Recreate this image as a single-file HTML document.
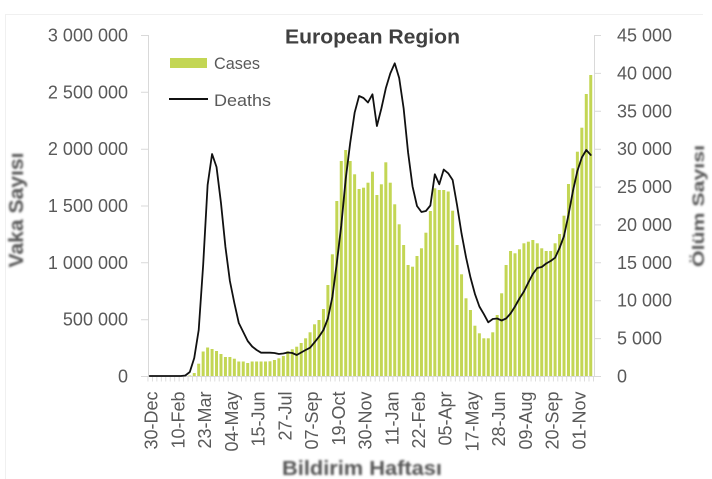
<!DOCTYPE html>
<html>
<head>
<meta charset="utf-8">
<style>
html,body{margin:0;padding:0;background:#fff;width:712px;height:479px;overflow:hidden}
svg{display:block}
text{font-family:"Liberation Sans",Arial,sans-serif}
</style>
</head>
<body>
<svg width="712" height="479" viewBox="0 0 712 479" xmlns="http://www.w3.org/2000/svg">
<defs>
<filter id="bl" x="-20%" y="-50%" width="140%" height="200%"><feGaussianBlur stdDeviation="1.1"/></filter>
</defs>
<rect width="712" height="479" fill="#fff"/>
<path d="M5.5 479V14.5H703" fill="none" stroke="#f0f0f0"/>

<!-- axes -->
<g stroke="#d9d9d9" stroke-width="1" fill="none">
<path d="M148.5 35V376.5"/>
<path d="M141 35.5H148.5M141 92.3H148.5M141 149.2H148.5M141 206H148.5M141 262.8H148.5M141 319.7H148.5M141 376.5H148.5"/>
<path d="M594.5 35V376.5"/>
<path d="M594.5 35.5H601M594.5 73.4H601M594.5 111.3H601M594.5 149.2H601M594.5 187.1H601M594.5 224.9H601M594.5 262.8H601M594.5 300.7H601M594.5 338.6H601M594.5 376.5H601"/>
<path d="M148 376.5H595"/>
<path d="M147.5 379H595" stroke-width="5" stroke-dasharray="0.9 3.555"/>
</g>

<!-- bars -->
<g transform="translate(148.2 376) scale(4.455 -1)" fill="#c3d654">
<rect x="9" y="0" width="0.673" height="0.5"/>
<rect x="10" y="0" width="0.673" height="3"/>
<rect x="11" y="0" width="0.673" height="12.3"/>
<rect x="12" y="0" width="0.673" height="24.5"/>
<rect x="13" y="0" width="0.673" height="28.5"/>
<rect x="14" y="0" width="0.673" height="27"/>
<rect x="15" y="0" width="0.673" height="25"/>
<rect x="16" y="0" width="0.673" height="22"/>
<rect x="17" y="0" width="0.673" height="19"/>
<rect x="18" y="0" width="0.673" height="19"/>
<rect x="19" y="0" width="0.673" height="17.3"/>
<rect x="20" y="0" width="0.673" height="14.5"/>
<rect x="21" y="0" width="0.673" height="14.5"/>
<rect x="22" y="0" width="0.673" height="13"/>
<rect x="23" y="0" width="0.673" height="14.5"/>
<rect x="24" y="0" width="0.673" height="14.5"/>
<rect x="25" y="0" width="0.673" height="14.5"/>
<rect x="26" y="0" width="0.673" height="14.5"/>
<rect x="27" y="0" width="0.673" height="14.7"/>
<rect x="28" y="0" width="0.673" height="16"/>
<rect x="29" y="0" width="0.673" height="17.7"/>
<rect x="30" y="0" width="0.673" height="20"/>
<rect x="31" y="0" width="0.673" height="24.7"/>
<rect x="32" y="0" width="0.673" height="26.7"/>
<rect x="33" y="0" width="0.673" height="29.3"/>
<rect x="34" y="0" width="0.673" height="33"/>
<rect x="35" y="0" width="0.673" height="37.7"/>
<rect x="36" y="0" width="0.673" height="43.7"/>
<rect x="37" y="0" width="0.673" height="51.7"/>
<rect x="38" y="0" width="0.673" height="56"/>
<rect x="39" y="0" width="0.673" height="67"/>
<rect x="40" y="0" width="0.673" height="91"/>
<rect x="41" y="0" width="0.673" height="121.7"/>
<rect x="42" y="0" width="0.673" height="175"/>
<rect x="43" y="0" width="0.673" height="215"/>
<rect x="44" y="0" width="0.673" height="226"/>
<rect x="45" y="0" width="0.673" height="215"/>
<rect x="46" y="0" width="0.673" height="201.7"/>
<rect x="47" y="0" width="0.673" height="187"/>
<rect x="48" y="0" width="0.673" height="188.3"/>
<rect x="49" y="0" width="0.673" height="193.3"/>
<rect x="50" y="0" width="0.673" height="204.3"/>
<rect x="51" y="0" width="0.673" height="181"/>
<rect x="52" y="0" width="0.673" height="191.7"/>
<rect x="53" y="0" width="0.673" height="213.7"/>
<rect x="54" y="0" width="0.673" height="193.3"/>
<rect x="55" y="0" width="0.673" height="171.7"/>
<rect x="56" y="0" width="0.673" height="151.7"/>
<rect x="57" y="0" width="0.673" height="131"/>
<rect x="58" y="0" width="0.673" height="111"/>
<rect x="59" y="0" width="0.673" height="109.3"/>
<rect x="60" y="0" width="0.673" height="120"/>
<rect x="61" y="0" width="0.673" height="127.7"/>
<rect x="62" y="0" width="0.673" height="143.3"/>
<rect x="63" y="0" width="0.673" height="165"/>
<rect x="64" y="0" width="0.673" height="187.7"/>
<rect x="65" y="0" width="0.673" height="186"/>
<rect x="66" y="0" width="0.673" height="186"/>
<rect x="67" y="0" width="0.673" height="184.5"/>
<rect x="68" y="0" width="0.673" height="165.3"/>
<rect x="69" y="0" width="0.673" height="131"/>
<rect x="70" y="0" width="0.673" height="101.7"/>
<rect x="71" y="0" width="0.673" height="77.7"/>
<rect x="72" y="0" width="0.673" height="66"/>
<rect x="73" y="0" width="0.673" height="50.3"/>
<rect x="74" y="0" width="0.673" height="42.7"/>
<rect x="75" y="0" width="0.673" height="37.7"/>
<rect x="76" y="0" width="0.673" height="37.7"/>
<rect x="77" y="0" width="0.673" height="43.7"/>
<rect x="78" y="0" width="0.673" height="61"/>
<rect x="79" y="0" width="0.673" height="82.7"/>
<rect x="80" y="0" width="0.673" height="111"/>
<rect x="81" y="0" width="0.673" height="125"/>
<rect x="82" y="0" width="0.673" height="122.7"/>
<rect x="83" y="0" width="0.673" height="126.7"/>
<rect x="84" y="0" width="0.673" height="132.7"/>
<rect x="85" y="0" width="0.673" height="134.3"/>
<rect x="86" y="0" width="0.673" height="136"/>
<rect x="87" y="0" width="0.673" height="132.7"/>
<rect x="88" y="0" width="0.673" height="127.7"/>
<rect x="89" y="0" width="0.673" height="125"/>
<rect x="90" y="0" width="0.673" height="125"/>
<rect x="91" y="0" width="0.673" height="132.7"/>
<rect x="92" y="0" width="0.673" height="142"/>
<rect x="93" y="0" width="0.673" height="160.3"/>
<rect x="94" y="0" width="0.673" height="192"/>
<rect x="95" y="0" width="0.673" height="207.7"/>
<rect x="96" y="0" width="0.673" height="224.3"/>
<rect x="97" y="0" width="0.673" height="248.3"/>
<rect x="98" y="0" width="0.673" height="282"/>
<rect x="99" y="0" width="0.673" height="301"/>
</g>

<!-- deaths line -->
<g transform="translate(149.7 0) scale(4.455 1)">
<polyline fill="none" stroke="#111" stroke-width="1.8" stroke-linejoin="round" stroke-linecap="round" vector-effect="non-scaling-stroke"
points="0,376 1,376 2,376 3,376 4,376 5,376 6,376 7,376 8,375.5 9,372 10,358 11,330 12,265 13,185 14,154 15,167 16,203 17,247 18,281 19,303 20,323 21,332 22,341 23,346.5 24,350 25,352.7 26,352.7 27,352.7 28,353 29,354 30,353.5 31,352.5 32,353 33,355 34,352.5 35,350 36,347.7 37,342.3 38,336.7 39,330 40,318.5 41,297 42,263 43,225.5 44,179 45,143 46,112.7 47,96 48,98 49,102.5 50,94.3 51,126 52,108.5 53,88.3 54,73.5 55,63.3 56,78 57,108.4 58,152.5 59,186.4 60,206 61,212 62,211 63,205.5 64,174.3 65,184.3 66,169.5 67,173.3 68,180 69,205.4 70,233.6 71,257.2 72,277.4 73,293.9 74,306.5 75,314.1 76,322.3 77,319 78,318.5 79,320.5 80,318.5 81,313.5 82,306.5 83,298.5 84,291.5 85,282.5 86,274 87,268 88,267 89,263.5 90,261 91,257.7 92,248 93,236 94,215 95,191 96,171 97,157.5 98,150 99,155"/>
</g>

<!-- left y labels -->
<g font-size="18" fill="#595959" text-anchor="end">
<text x="128" y="41.5">3 000 000</text>
<text x="128" y="98.3">2 500 000</text>
<text x="128" y="155.2">2 000 000</text>
<text x="128" y="212">1 500 000</text>
<text x="128" y="268.8">1 000 000</text>
<text x="128" y="325.7">500 000</text>
<text x="128" y="382.5">0</text>
</g>

<!-- right y labels -->
<g font-size="18" fill="#595959">
<text x="617" y="41.5">45 000</text>
<text x="617" y="79.4">40 000</text>
<text x="617" y="117.3">35 000</text>
<text x="617" y="155.2">30 000</text>
<text x="617" y="193.1">25 000</text>
<text x="617" y="230.9">20 000</text>
<text x="617" y="268.8">15 000</text>
<text x="617" y="306.7">10 000</text>
<text x="617" y="344.6">5 000</text>
<text x="617" y="382.5">0</text>
</g>

<!-- x labels -->
<g font-size="18" fill="#595959" text-anchor="end">
<text transform="translate(157.7 391.5) rotate(-90)">30-Dec</text>
<text transform="translate(184.4 391.5) rotate(-90)">10-Feb</text>
<text transform="translate(211.2 391.5) rotate(-90)">23-Mar</text>
<text transform="translate(237.9 391.5) rotate(-90)">04-May</text>
<text transform="translate(264.6 391.5) rotate(-90)">15-Jun</text>
<text transform="translate(291.4 391.5) rotate(-90)">27-Jul</text>
<text transform="translate(318.1 391.5) rotate(-90)">07-Sep</text>
<text transform="translate(344.8 391.5) rotate(-90)">19-Oct</text>
<text transform="translate(371.5 391.5) rotate(-90)">30-Nov</text>
<text transform="translate(398.3 391.5) rotate(-90)">11-Jan</text>
<text transform="translate(425 391.5) rotate(-90)">22-Feb</text>
<text transform="translate(451.7 391.5) rotate(-90)">05-Apr</text>
<text transform="translate(478.5 391.5) rotate(-90)">17-May</text>
<text transform="translate(505.2 391.5) rotate(-90)">28-Jun</text>
<text transform="translate(531.9 391.5) rotate(-90)">09-Aug</text>
<text transform="translate(558.7 391.5) rotate(-90)">20-Sep</text>
<text transform="translate(585.4 391.5) rotate(-90)">01-Nov</text>
</g>

<!-- title -->
<text x="285" y="43.3" font-size="20" font-weight="bold" fill="#404040" textLength="175" lengthAdjust="spacingAndGlyphs">European Region</text>

<!-- legend -->
<rect x="170" y="58" width="37" height="10" fill="#c3d654"/>
<text x="214" y="69" font-size="17" fill="#595959" textLength="46" lengthAdjust="spacingAndGlyphs">Cases</text>
<path d="M169 99H208" stroke="#111" stroke-width="2"/>
<text x="214" y="106" font-size="17" fill="#595959" textLength="57" lengthAdjust="spacingAndGlyphs">Deaths</text>

<!-- axis titles (blurred) -->
<g fill="#555" font-weight="bold" filter="url(#bl)">
<text transform="translate(23 210) rotate(-90)" text-anchor="middle" font-size="20" textLength="115" lengthAdjust="spacingAndGlyphs">Vaka Sayısı</text>
<text transform="translate(704 206) rotate(-90)" text-anchor="middle" font-size="17" textLength="122" lengthAdjust="spacingAndGlyphs">Ölüm Sayısı</text>
<text x="362" y="475" text-anchor="middle" font-size="20" textLength="160" lengthAdjust="spacingAndGlyphs">Bildirim Haftası</text>
</g>
</svg>
</body>
</html>
